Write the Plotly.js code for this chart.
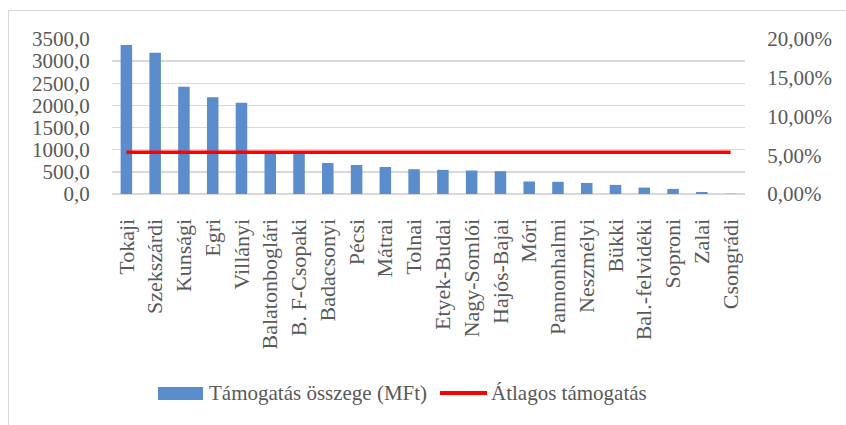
<!DOCTYPE html>
<html>
<head>
<meta charset="utf-8">
<script src="https://cdn.plot.ly/plotly-3.0.1.min.js"></script>
<style>
  html, body { margin: 0; padding: 0; background: #fff; }
  #wrap { position: relative; width: 846px; height: 425px; overflow: hidden; }
  #chart { width: 846px; height: 425px; }
  #frame { position: absolute; left: 8px; top: 10px; width: 900px; height: 500px;
           border-left: 1px solid #d9d9d9; border-top: 1px solid #d9d9d9; pointer-events: none; }
</style>
</head>
<body>
<div id="wrap">
  <div id="chart"></div>
  <div id="frame"></div>
</div>
<script>
const categories = ["Tokaji", "Szekszárdi", "Kunsági", "Egri", "Villányi", "Balatonboglári",
  "B. F-Csopaki", "Badacsonyi", "Pécsi", "Mátrai", "Tolnai", "Etyek-Budai", "Nagy-Somlói",
  "Hajós-Bajai", "Móri", "Pannonhalmi", "Neszmélyi", "Bükki", "Bal.-felvidéki", "Soproni",
  "Zalai", "Csongrádi"];
const supportMFt = [3365, 3190, 2420, 2185, 2060, 930, 920, 700, 655, 610, 560, 545, 530,
  515, 283, 275, 250, 205, 145, 115, 45, 5];
const averageSupport = [940, 940, 940, 940, 940, 940, 940, 940, 940, 940, 940, 940, 940,
  940, 940, 940, 940, 940, 940, 940, 940, 940];
const leftTicks = [0, 500, 1000, 1500, 2000, 2500, 3000, 3500];
const rightTicks = [0, 0.05, 0.10, 0.15, 0.20];
const seriesNames = ["Támogatás összege (MFt)", "Átlagos támogatás"];

const fontFam = '"Liberation Serif", "Times New Roman", serif';
const textColor = '#595959';
const barColor = '#5B8CCB';
const lineColor = '#FF0000';

// plot-area geometry (pixels) used to place the hand-drawn legend in paper coords
const W = 846, H = 425, mL = 112, mR = 101, mT = 39, mB = 231;
const pw = W - mL - mR, ph = H - mT - mB;
const px = v => (v - mL) / pw;
const py = v => (H - mB - v) / ph;
const legendY = 393;

const traces = [
  {
    type: 'bar', x: categories, y: supportMFt, name: seriesNames[0],
    marker: { color: barColor }, hoverinfo: 'x+y'
  },
  {
    type: 'scatter', mode: 'lines', x: categories, y: averageSupport, name: seriesNames[1],
    line: { color: lineColor, width: 3.5 }
  },
  {
    type: 'scatter', mode: 'lines', x: categories, y: categories.map(() => null), yaxis: 'y2',
    showlegend: false, hoverinfo: 'skip'
  }
];

const layout = {
  width: W, height: H,
  margin: { l: mL, r: mR, t: mT, b: mB, pad: 0 },
  paper_bgcolor: '#ffffff', plot_bgcolor: '#ffffff',
  separators: ', ',
  font: { family: fontFam, color: textColor, size: 21 },
  bargap: 0.6,
  showlegend: false,
  xaxis: {
    type: 'category', tickangle: -90,
    tickfont: { family: fontFam, size: 22, color: textColor },
    showgrid: false, zeroline: false, showline: false,
    ticks: 'outside', ticklen: 15, tickcolor: 'rgba(0,0,0,0)',
    automargin: false
  },
  yaxis: {
    range: [0, 3500], tickvals: leftTicks, tickformat: '.1f',
    tickfont: { family: fontFam, size: 21, color: textColor },
    showgrid: true, gridcolor: '#d9d9d9', gridwidth: 1.3,
    zeroline: true, zerolinecolor: '#d9d9d9', zerolinewidth: 1.5,
    showline: false, ticks: 'outside', ticklen: 17, tickcolor: 'rgba(0,0,0,0)',
    automargin: false
  },
  yaxis2: {
    overlaying: 'y', side: 'right', range: [0, 0.20], tickvals: rightTicks, tickformat: '.2%',
    tickfont: { family: fontFam, size: 21, color: textColor },
    showgrid: false, zeroline: false, showline: false,
    ticks: 'outside', ticklen: 17, tickcolor: 'rgba(0,0,0,0)',
    automargin: false
  },
  shapes: [
    { type: 'rect', xref: 'paper', yref: 'paper',
      x0: px(158), x1: px(203), y0: py(400), y1: py(387),
      fillcolor: barColor, line: { width: 0 } },
    { type: 'line', xref: 'paper', yref: 'paper',
      x0: px(440), x1: px(487), y0: py(legendY), y1: py(legendY),
      line: { color: lineColor, width: 4 } }
  ],
  annotations: [
    { xref: 'paper', yref: 'paper', x: px(207), y: py(legendY), xanchor: 'left', yanchor: 'middle',
      text: seriesNames[0], showarrow: false,
      font: { family: fontFam, size: 21, color: textColor } },
    { xref: 'paper', yref: 'paper', x: px(489), y: py(legendY), xanchor: 'left', yanchor: 'middle',
      text: seriesNames[1], showarrow: false,
      font: { family: fontFam, size: 21, color: textColor } }
  ]
};

Plotly.newPlot('chart', traces, layout, { displayModeBar: false, staticPlot: true });
</script>
</body>
</html>
